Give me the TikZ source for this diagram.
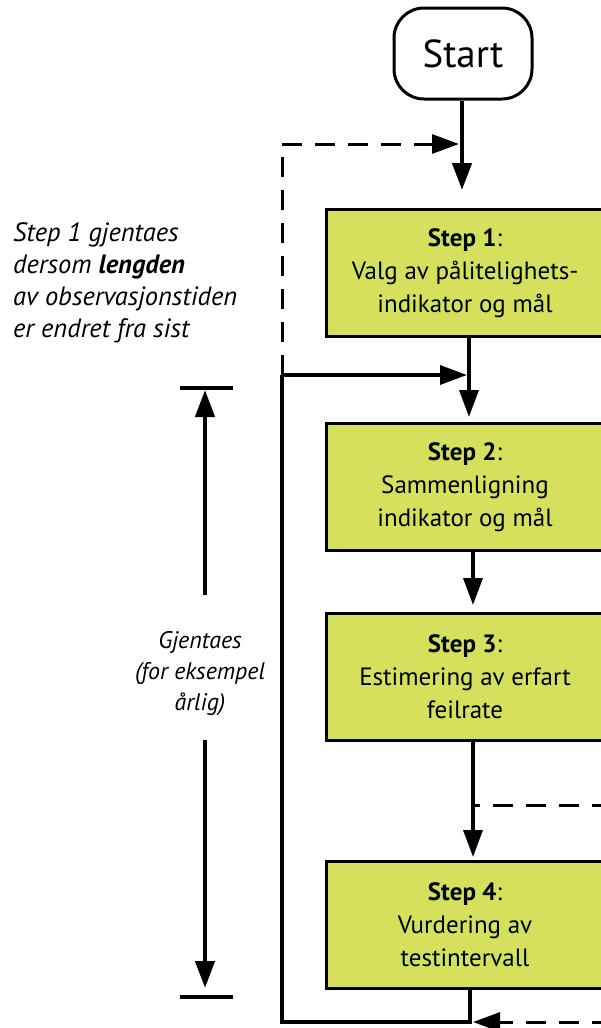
\documentclass[tikz,border=0pt]{standalone}
\usepackage{fontspec}
\setmainfont{PT Sans}
\usetikzlibrary{arrows.meta}
\definecolor{stepfill}{RGB}{213,225,92}

\begin{document}
\begin{tikzpicture}[x=1pt,y=-1pt,
  stepbox/.style={draw=black, fill=stepfill, line width=3pt,
    minimum width=278pt, minimum height=127pt, inner sep=0pt,
    align=center, font=\fontsize{25}{33}\selectfont},
  tip/.style={-{Triangle[length=27pt,width=19pt]}},
  flow/.style={line width=3.5pt, tip},
  plain/.style={line width=3.5pt},
  back/.style={line width=3pt, dash pattern=on 20pt off 13pt},
  note/.style={font=\itshape\fontsize{26.5}{32}\selectfont, inner sep=0pt}
]
\useasboundingbox (0,0) rectangle (600,1028);

% start terminal
\node[draw, line width=3pt, rounded corners=30pt, minimum width=138pt,
  minimum height=91pt, inner sep=0pt, font=\fontsize{39}{40}\selectfont]
  (start) at (463,53.5) {Start};

% process steps
\node[stepbox] (s1) at (465,273) {\textbf{Step 1}:\\Valg av pålitelighets-\\indikator og mål};
\node[stepbox] (s2) at (465,487) {\textbf{Step 2}:\\Sammenligning\\indikator og mål};
\node[stepbox] (s3) at (465,677) {\textbf{Step 3}:\\Estimering av erfart\\feilrate};
\node[stepbox] (s4) at (465,925) {\textbf{Step 4}:\\Vurdering av\\testintervall};

% junction and end points
\coordinate (in1) at (462,190);
\coordinate (in2) at (469,417);
\coordinate (in3) at (473,605);
\coordinate (in4) at (473,857);
\coordinate (m1) at (467,375);
\coordinate (m3) at (473,805);
\coordinate (L0) at (282,144);
\coordinate (d0) at (459,144);
\coordinate (L1) at (282,375);
\coordinate (L2) at (282,1022);
\coordinate (B) at (470,1022);
\coordinate (Bt) at (473,1022);
\coordinate (R3) at (612,805);
\coordinate (RB) at (612,1022);

% main flow
\draw[flow, line width=4.5pt] ([xshift=-1pt]start.south) -- (in1);
\draw[flow] ([xshift=4pt]s1.south) -- (in2);
\draw[flow] ([xshift=8pt]s2.south) -- (in3);
\draw[flow] ([xshift=8pt]s3.south) -- (in4);

% yearly loop back to step 2
\draw[plain] ([xshift=5pt]s4.south) -- (B) -- (L2) -- (L1);
\draw[flow] (L1) -- (m1);

% conditional loop back to step 1
\draw[back, tip] (L1) -- (L0) -- (d0);

% dashed returns entering from the right
\draw[back] (R3) -- (m3);
\draw[back, tip] (RB) -- (Bt);

% notes
\node[note, anchor=north west, align=left] (n1) at (13,222)
  {Step 1 gjentaes\\dersom \textbf{lengden}\\av observasjonstiden\\er endret fra sist};
\node[note, align=center, font=\itshape\fontsize{24}{31}\selectfont] (n2) at (200,674)
  {Gjentaes\\(for eksempel\\årlig)};

% span of the repetition
\coordinate (t1) at (180,388);
\coordinate (t2) at (233,388);
\coordinate (t3) at (180,997);
\coordinate (t4) at (233,997);
\coordinate (a1) at (205,390);
\coordinate (a2) at (205,595);
\coordinate (a3) at (205,740);
\coordinate (a4) at (205,988);
\draw[plain] (t1) -- (t2);
\draw[plain] (t3) -- (t4);
\draw[line width=4.5pt, {Triangle[length=27pt,width=19pt]}-] (a1) -- (a2);
\draw[line width=4.5pt, tip] (a3) -- (a4);
\end{tikzpicture}
\end{document}
